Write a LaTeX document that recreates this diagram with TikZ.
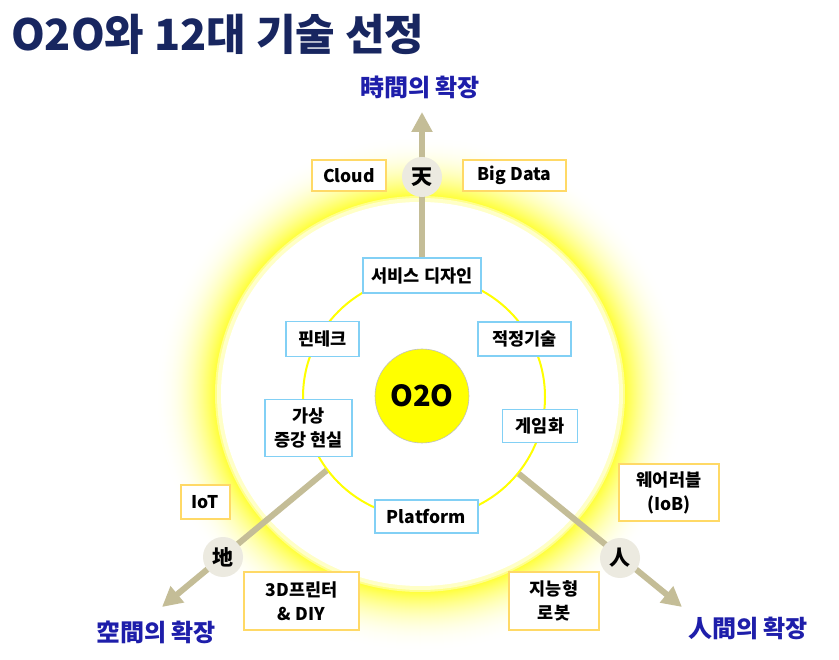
\documentclass[tikz,border=0pt]{standalone}
\usepackage{fontspec}
\setmainfont{Noto Sans CJK KR}
\usetikzlibrary{arrows.meta}
\definecolor{navy}{RGB}{24,38,96}
\definecolor{axblue}{RGB}{30,30,170}
\definecolor{tan}{RGB}{196,189,151}
\definecolor{beige}{RGB}{236,234,224}
\definecolor{skyb}{RGB}{130,208,245}
\definecolor{gold}{RGB}{255,217,102}
\definecolor{yel}{RGB}{255,255,0}
\tikzset{
  bluebox/.style={draw=skyb, line width=1.5pt, fill=white, inner sep=0pt, align=center,
    font=\fontsize{17.5}{24}\selectfont\bfseries},
  orangebox/.style={draw=gold, line width=1.5pt, fill=white, inner sep=0pt, align=center,
    font=\fontsize{17.5}{24}\selectfont\bfseries},
  hanja/.style={circle, fill=beige, minimum size=40pt, inner sep=0pt, font=\fontsize{21}{22}\selectfont\bfseries},
  axislabel/.style={text=axblue, font=\fontsize{24}{26}\selectfont\bfseries, inner sep=0pt},
  arrowline/.style={draw=tan, line width=6pt, -{Triangle[length=20pt,width=20pt]}}
}
\begin{document}
\begin{tikzpicture}[x=1pt,y=-1pt]
\useasboundingbox (0,0) rectangle (839,660);
\fill[white] (0,0) rectangle (839,660);
% glow
\coordinate (gc) at (420,394);
\foreach \i in {60,59,...,0}{
  \pgfmathsetmacro\p{78*(1-\i/61)^2.2}
  \pgfmathsetmacro\rx{205+\i}
  \pgfmathsetmacro\ry{198+\i}
  \fill[yel!\p!white] (gc) ellipse [x radius=\rx pt, y radius=\ry pt];
}
\fill[yel!45!white] (gc) ellipse [x radius=205pt, y radius=198pt];
\fill[yel!22!white] (gc) ellipse [x radius=203pt, y radius=196pt];
\fill[white] (gc) ellipse [x radius=199pt, y radius=192pt];
% title
\node[anchor=west, inner sep=0pt, text=navy, font=\fontsize{43}{46}\selectfont\bfseries] (title) at (11,34) {O2O와 12대 기술 선정};
% inner ring
\node[circle, draw=yel, line width=2pt, minimum size=242pt, inner sep=0pt] (ring) at (424,397) {};
% arrows
\coordinate (tipT) at (422,112);
\coordinate (tipL) at (162,607);
\coordinate (tipR) at (682,607);
\draw[arrowline] (ring.north -| tipT) -- (tipT);
\draw[arrowline] (ring.217.7) -- (tipL);
\draw[arrowline] (ring.-39) -- (tipR);
% hanja circles
\node[hanja] (ten) at (422,177) {天};
\node[hanja] (chi) at (223,557) {地};
\node[hanja] (jin) at (620,558) {人};
% centre
\node[circle, fill=yel, draw=black!25, line width=0.6pt, minimum size=94pt, inner sep=0pt,
  font=\fontsize{29}{30}\selectfont\bfseries] (o2o) at (422,396) {O2O};
% blue boxes
\node[bluebox, minimum width=118pt, minimum height=35pt] (svc) at (422,275.5) {서비스 디자인};
\node[bluebox, minimum width=73pt, minimum height=35pt] (fin) at (322.5,339) {핀테크};
\node[bluebox, minimum width=93pt, minimum height=34pt] (app) at (524.5,339) {적정기술};
\node[bluebox, minimum width=87pt, minimum height=57pt] (vr) at (308.5,428) {가상\\증강 현실};
\node[bluebox, minimum width=75pt, minimum height=33pt] (gam) at (540,426) {게임화};
\node[bluebox, minimum width=103pt, minimum height=33pt] (plat) at (426.5,516.5) {Platform};
% orange boxes
\node[orangebox, minimum width=74pt, minimum height=31pt] (cloud) at (349,175.5) {Cloud};
\node[orangebox, minimum width=103pt, minimum height=31pt] (big) at (514.5,175.5) {Big Data};
\node[orangebox, minimum width=49pt, minimum height=34pt] (iot) at (205.5,502) {IoT};
\node[orangebox, minimum width=115pt, minimum height=58pt] (prn) at (301.5,601) {3D프린터\\\& DIY};
\node[orangebox, minimum width=100pt, minimum height=57pt] (wear) at (669,492.5) {웨어러블\\(IoB)};
\node[orangebox, minimum width=90pt, minimum height=58pt] (robot) at (554,601) {지능형\\로봇};
% axis labels
\node[axislabel] (lt) at (420,87) {時間의 확장};
\node[axislabel] (ll) at (156,632) {空間의 확장};
\node[axislabel] (lr) at (748,628) {人間의 확장};
\end{tikzpicture}
\end{document}
